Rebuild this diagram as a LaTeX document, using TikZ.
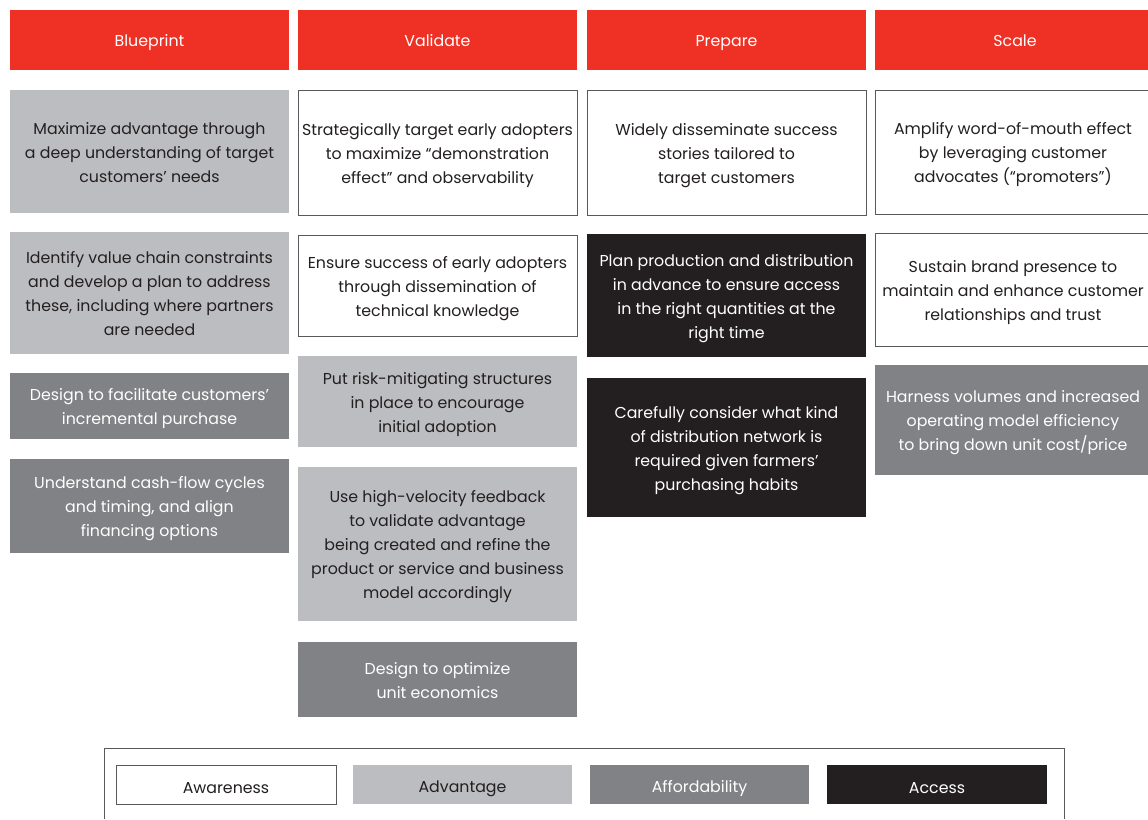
\documentclass[tikz,border=0pt]{standalone}
\usepackage{fontspec}
\setmainfont{Poppins}
\definecolor{hdrred}{HTML}{EE3124}
\definecolor{ltgray}{HTML}{BCBDC0}
\definecolor{mdgray}{HTML}{808285}
\definecolor{dkblk}{HTML}{231F20}
\definecolor{edgegray}{HTML}{58595B}
\newcommand{\bstrut}{\rule[-4.5pt]{0pt}{24pt}}
\newcommand{\hstrut}{\rule[-6.2pt]{0pt}{25pt}}
\newcommand{\lstrut}{\rule[-3.5pt]{0pt}{24pt}}
\tikzset{
  base/.style={anchor=north west, inner sep=0pt, outer sep=0pt, align=center,
    font=\fontsize{15.8}{24}\selectfont},
  leg/.style={execute at begin node=\lstrut, execute at end node=\lstrut},
  hdr/.style={base, fill=hdrred, text=white,
    execute at begin node=\hstrut, execute at end node=\hstrut},
  aware/.style={base, fill=white, draw=edgegray, line width=1pt, text=dkblk},
  advan/.style={base, fill=ltgray, text=dkblk},
  afford/.style={base, fill=mdgray, text=white},
  access/.style={base, fill=dkblk, text=white},
  txt/.style={inner sep=0pt, outer sep=0pt, align=center, yshift=-3pt,
    font=\fontsize{15.8}{24}\selectfont,
    execute at begin node=\bstrut, execute at end node=\bstrut},
  dtxt/.style={txt, text=dkblk},
  wtxt/.style={txt, text=white},
}
\begin{document}
\begin{tikzpicture}[x=1pt,y=-1pt]
\useasboundingbox (0,0) rectangle (1148,819);
% headers
\node[hdr, minimum width=279, minimum height=60] (h1) at (10,10) {Blueprint};
\node[hdr, minimum width=279, minimum height=60] (h2) at (298,10) {Validate};
\node[hdr, minimum width=279, minimum height=60] (h3) at (587,10) {Prepare};
\node[hdr, minimum width=280, minimum height=60] (h4) at (875,10) {Scale};
% column 1
\node[advan, minimum width=279, minimum height=123] (a1) at (10,90) {};
\node[dtxt] (a1t) at (a1.center) {Maximize advantage through\\a deep understanding of target\\customers’ needs};
\node[advan, minimum width=279, minimum height=122] (a2) at (10,232) {};
\node[dtxt] (a2t) at (a2.center) {Identify value chain constraints\\and develop a plan to address\\these, including where partners\\are needed};
\node[afford, minimum width=279, minimum height=66] (a3) at (10,373) {};
\node[wtxt] (a3t) at (a3.center) {Design to facilitate customers’\\incremental purchase};
\node[afford, minimum width=279, minimum height=94] (a4) at (10,459) {};
\node[wtxt] (a4t) at (a4.center) {Understand cash-flow cycles\\and timing, and align\\financing options};
% column 2
\node[aware, minimum width=279, minimum height=125] (b1) at (298,90) {};
\node[dtxt] (b1t) at (b1.center) {Strategically target early adopters\\to maximize “demonstration\\effect” and observability};
\node[aware, minimum width=279, minimum height=101] (b2) at (298,235) {};
\node[dtxt] (b2t) at (b2.center) {Ensure success of early adopters\\through dissemination of\\technical knowledge};
\node[advan, minimum width=279, minimum height=91] (b3) at (298,356) {};
\node[dtxt] (b3t) at (b3.center) {Put risk-mitigating structures\\in place to encourage\\initial adoption};
\node[advan, minimum width=279, minimum height=154] (b4) at (298,467) {};
\node[dtxt] (b4t) at (b4.center) {Use high-velocity feedback\\to validate advantage\\being created and refine the\\product or service and business\\model accordingly};
\node[afford, minimum width=279, minimum height=75] (b5) at (298,642) {};
\node[wtxt] (b5t) at (b5.center) {Design to optimize\\unit economics};
% column 3
\node[aware, minimum width=279, minimum height=125] (c1) at (587,90) {};
\node[dtxt] (c1t) at (c1.center) {Widely disseminate success\\stories tailored to\\target customers};
\node[access, minimum width=279, minimum height=123] (c2) at (587,234) {};
\node[wtxt] (c2t) at (c2.center) {Plan production and distribution\\in advance to ensure access\\in the right quantities at the\\right time};
\node[access, minimum width=279, minimum height=139] (c3) at (587,378) {};
\node[wtxt] (c3t) at (c3.center) {Carefully consider what kind\\of distribution network is\\required given farmers’\\purchasing habits};
% column 4
\node[aware, minimum width=280, minimum height=124] (d1) at (875,90) {};
\node[dtxt] (d1t) at ([xshift=-2pt]d1.center) {Amplify word-of-mouth effect\\by leveraging customer\\advocates (“promoters”)};
\node[aware, minimum width=280, minimum height=113] (d2) at (875,233) {};
\node[dtxt] (d2t) at ([xshift=-2pt]d2.center) {Sustain brand presence to\\maintain and enhance customer\\relationships and trust};
\node[afford, minimum width=280, minimum height=110] (d3) at (875,365) {};
\node[wtxt] (d3t) at ([xshift=-2pt]d3.center) {Harness volumes and increased\\operating model efficiency\\to bring down unit cost/price};
% legend
\draw[edgegray, line width=1pt] (104,819) -- (104,748) -- (1064,748) -- (1064,819);
\node[aware, leg, minimum width=220, minimum height=39] (l1) at (116,765) {Awareness};
\node[advan, leg, minimum width=219, minimum height=39] (l2) at (353,765) {Advantage};
\node[afford, leg, minimum width=219, minimum height=39] (l3) at (590,765) {Affordability};
\node[access, leg, minimum width=220, minimum height=39] (l4) at (827,765) {Access};
\end{tikzpicture}
\end{document}
